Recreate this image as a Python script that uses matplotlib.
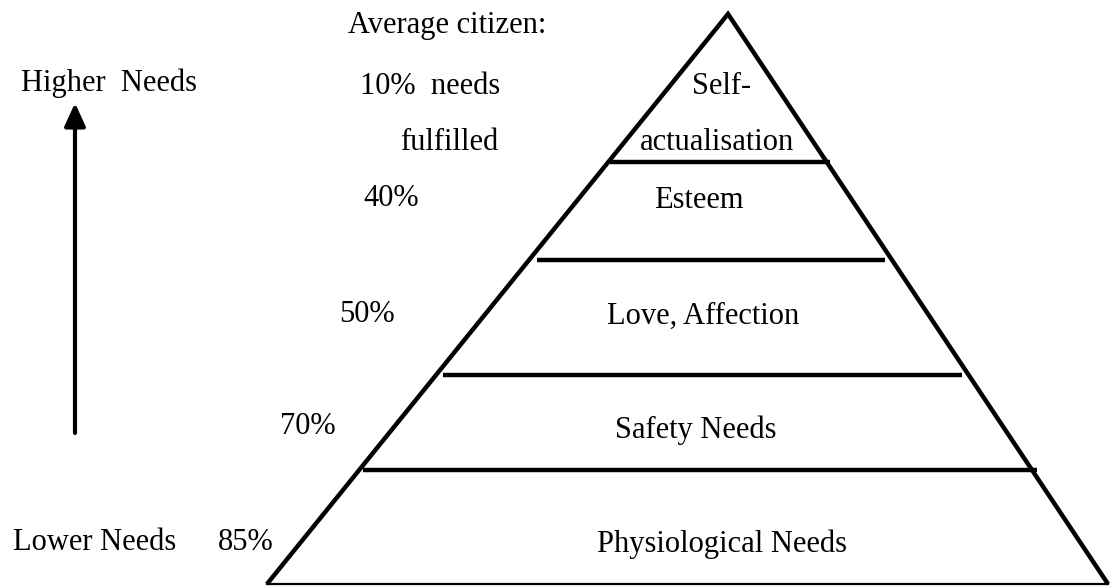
import matplotlib
matplotlib.use("Agg")
import matplotlib.pyplot as plt

# Data
levels = ["Self-", "actualisation", "Esteem", "Love, Affection", "Safety Needs", "Physiological Needs"]
percents = ["10%  needs", "fulfilled", "40%", "50%", "70%", "85%"]
side_labels = ["Average citizen:", "Higher  Needs", "Lower Needs"]

# pyramid geometry (pixel rows/cols)
apex = (728, 14)
base_left = (267, 584)
base_right = (1108, 584)
tier_lines_y = [162, 260, 375, 470]
tier_lines_x = [(610, 830), (537, 885), (443, 962), (363, 1037)]

plt.rcParams['font.family'] = ['Liberation Serif', 'DejaVu Serif']
fig = plt.figure(figsize=(11.1, 5.86), dpi=100)
ax = fig.add_axes([0, 0, 1, 1])
ax.set_xlim(0, 1110)
ax.set_ylim(586, 0)
ax.axis('off')

lw = 3.2
ax.plot([base_left[0], apex[0], base_right[0]], [base_left[1], apex[1], base_right[1]],
        color='black', lw=lw, solid_joinstyle='miter', solid_capstyle='butt')
ax.plot([base_left[0], base_right[0]], [base_left[1], base_right[1]], color='black', lw=1.6)
for y, (x0, x1) in zip(tier_lines_y, tier_lines_x):
    ax.plot([x0, x1], [y, y], color='black', lw=lw, solid_capstyle='butt')

fs = 22
dy = 3
# tier labels
label_pos = [(722, 84), (717, 140), (699, 197), (703, 313), (696, 427), (722, 541)]
for (x, y), t in zip(label_pos, levels):
    ax.text(x, y + dy, t, ha='center', va='center', fontsize=fs)

# percentages
pct_pos = [(430, 83), (449, 140), (391, 196), (367, 311), (308, 424), (246, 539)]
for (x, y), t in zip(pct_pos, percents):
    ax.text(x, y + dy, t, ha='center', va='center', fontsize=fs)

side_pos = [(447, 22), (109, 80), (95, 539)]
for (x, y), t in zip(side_pos, side_labels):
    ax.text(x, y + dy, t, ha='center', va='center', fontsize=fs)

ax.annotate("", xy=(75, 103), xytext=(75, 433),
            arrowprops=dict(arrowstyle='-|>,head_length=0.7,head_width=0.32', color='black', lw=3.0,
                            shrinkA=0, shrinkB=0, mutation_scale=20))

fig.savefig("out.png", dpi=100)
